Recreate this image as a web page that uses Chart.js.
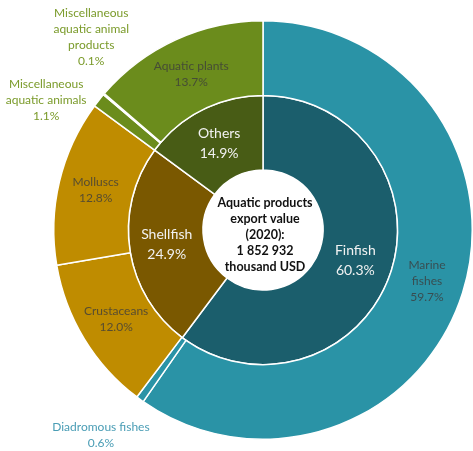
<!DOCTYPE html>
<html>
<head>
<meta charset="utf-8">
<script src="https://cdn.jsdelivr.net/npm/chart.js@4.4.1/dist/chart.umd.min.js"></script>
<style>
  html, body { margin: 0; padding: 0; background: #fff; overflow: hidden; }
  #wrap { width: 473px; height: 451px; }
</style>
</head>
<body>
<div id="wrap"><canvas id="chart" width="473" height="451"></canvas></div>
<script>
// outer ring: product groups
const groupLabels = [
  ['Marine', 'fishes'],
  ['Diadromous fishes'],
  ['Crustaceans'],
  ['Molluscs'],
  ['Miscellaneous', 'aquatic animals'],
  ['Miscellaneous', 'aquatic animal', 'products'],
  ['Aquatic plants']
];
const groupShares = [59.7, 0.6, 12.0, 12.8, 1.1, 0.1, 13.7];

// inner ring: main categories
const categoryLabels = ['Finfish', 'Shellfish', 'Others'];
const categoryShares = [60.3, 24.9, 14.9];

const centerLines = ['Aquatic products', 'export value', '(2020):', '1 852 932', 'thousand USD'];

const FONT = 'Lato, "Open Sans", sans-serif';

const groupColors = ['#2a93a6', '#2a93a6', '#bf8c00', '#bf8c00', '#6b8c1c', '#6b8c1c', '#6b8c1c'];
const categoryColors = ['#1b5e6c', '#7a5800', '#485c15'];

// small slices get their label outside the ring, shifted from the slice centre
const outsideShift = {
  1: { dx: -61, dy: 66, color: '#4a9db5' },
  4: { dx: -82, dy: -23, color: '#7b9b2b' },
  5: { dx: -41, dy: -81, color: '#7b9b2b' }
};

const pct = v => v.toFixed(1) + '%';

function drawLines(ctx, lines, x, y, lh) {
  const top = y - (lines.length - 1) * lh / 2;
  lines.forEach((t, i) => ctx.fillText(t, x, top + i * lh));
}

const sliceLabels = {
  id: 'sliceLabels',
  afterDatasetsDraw(chart) {
    const ctx = chart.ctx;
    ctx.save();
    ctx.textAlign = 'center';
    ctx.textBaseline = 'middle';

    // outer ring
    chart.getDatasetMeta(0).data.forEach((arc, i) => {
      const p = arc.tooltipPosition();
      const lines = groupLabels[i].concat(pct(groupShares[i]));
      ctx.font = '12px ' + FONT;
      const out = outsideShift[i];
      if (out) {
        ctx.fillStyle = out.color;
        drawLines(ctx, lines, p.x + out.dx, p.y + out.dy, 16);
      } else {
        ctx.fillStyle = 'rgba(60,60,60,0.8)';
        drawLines(ctx, lines, p.x, p.y, 16);
      }
    });

    // inner ring
    chart.getDatasetMeta(1).data.forEach((arc, i) => {
      const p = arc.tooltipPosition();
      ctx.font = '14px ' + FONT;
      ctx.fillStyle = '#f2f2f2';
      drawLines(ctx, [categoryLabels[i], pct(categoryShares[i])], p.x, p.y, 20);
    });

    // white centre disc with the total
    const c = chart.getDatasetMeta(1).data[0];
    ctx.beginPath();
    ctx.arc(c.x, c.y, c.innerRadius, 0, Math.PI * 2);
    ctx.fillStyle = '#fff';
    ctx.fill();
    ctx.font = 'bold 12.5px ' + FONT;
    ctx.fillStyle = '#111';
    drawLines(ctx, centerLines, c.x + 2, c.y + 5, 16);
    ctx.restore();
  }
};

new Chart(document.getElementById('chart'), {
  type: 'doughnut',
  data: {
    labels: groupLabels.map(l => l.join(' ')),
    datasets: [
      {
        data: groupShares,
        backgroundColor: groupColors,
        borderColor: '#fff',
        borderWidth: 1.5
      },
      {
        data: categoryShares,
        backgroundColor: categoryColors,
        borderColor: '#fff',
        borderWidth: 1.5
      }
    ]
  },
  options: {
    responsive: false,
    animation: false,
    cutout: 60,
    layout: { padding: { left: 53, top: 20, right: 0, bottom: 11 } },
    plugins: {
      legend: { display: false },
      tooltip: { enabled: false }
    }
  },
  plugins: [sliceLabels]
});
</script>
</body>
</html>
